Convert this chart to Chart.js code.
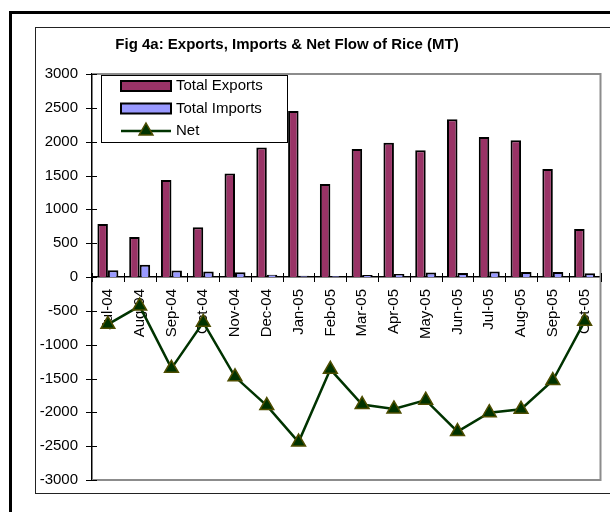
<!DOCTYPE html>
<html>
<head>
<meta charset="utf-8">
<script src="https://cdn.jsdelivr.net/npm/chart.js@4.4.1/dist/chart.umd.min.js"></script>
<style>
  html, body { margin: 0; padding: 0; background: #fff; }
</style>
</head>
<body>
<canvas id="chart" width="610" height="512"></canvas>
<script>
// values (MT)
const months = ['Jul-04', 'Aug-04', 'Sep-04', 'Oct-04', 'Nov-04', 'Dec-04', 'Jan-05', 'Feb-05',
                'Mar-05', 'Apr-05', 'May-05', 'Jun-05', 'Jul-05', 'Aug-05', 'Sep-05', 'Oct-05'];
const totalExports = [785, 590, 1435, 735, 1530, 1915, 2455, 1375, 1890, 1985, 1875, 2330, 2070, 2020, 1595, 710];
const totalImports = [100, 180, 95, 80, 70, 35, 18, 15, 30, 45, 65, 60, 80, 75, 75, 55];
const netFlow = [-700, -430, -1350, -670, -1475, -1900, -2440, -1365, -1885, -1950, -1820, -2285, -2005, -1955, -1530, -655];
const yMin = -3000;
const yMax = 3000;
const yStep = 500;

const titleText = 'Fig 4a: Exports, Imports & Net Flow of Rice (MT)';
const FONT = 'Liberation Sans, Arial, sans-serif';

// frame, title, plot border, crossing tick marks and the boxed legend
const decor = {
    id: 'decor',
    beforeDraw(chart) {
        const ctx = chart.ctx;
        ctx.save();
        ctx.fillStyle = '#fff';
        ctx.fillRect(0, 0, chart.width, chart.height);
        ctx.strokeStyle = '#000';
        ctx.lineWidth = 3;
        ctx.strokeRect(10.5, 12.5, 700, 700);
        ctx.lineWidth = 1;
        ctx.strokeStyle = '#222';
        ctx.strokeRect(35.5, 27.5, 700, 466);

        ctx.fillStyle = '#000';
        ctx.font = 'bold 15px ' + FONT;
        ctx.textAlign = 'center';
        ctx.textBaseline = 'alphabetic';
        ctx.fillText(titleText, 287, 49);
        ctx.restore();
    },
    beforeDatasetsDraw(chart) {
        const {ctx, chartArea: a} = chart;
        ctx.save();
        ctx.strokeStyle = '#8c8c8c';
        ctx.lineWidth = 2;
        ctx.beginPath();
        ctx.moveTo(a.left, a.top);
        ctx.lineTo(a.right, a.top);
        ctx.lineTo(a.right, a.bottom);
        ctx.lineTo(a.left, a.bottom);
        ctx.stroke();
        ctx.restore();
    },
    afterDraw(chart) {
        const {ctx, chartArea: a} = chart;
        const x = chart.scales.x;
        const y = chart.scales.y;
        ctx.save();
        ctx.strokeStyle = '#000';
        ctx.lineWidth = 1;
        // y ticks crossing the axis
        y.ticks.forEach(t => {
            const py = Math.round(y.getPixelForValue(t.value)) + 0.5;
            ctx.beginPath();
            ctx.moveTo(a.left - 6, py);
            ctx.lineTo(a.left + 5, py);
            ctx.stroke();
        });
        // x ticks between categories, on the zero line
        const y0 = y.getPixelForValue(0);
        const half = (x.getPixelForValue(1) - x.getPixelForValue(0)) / 2;
        for (let i = 0; i <= months.length; i++) {
            const px = Math.round(x.getPixelForValue(i) - half) + 0.5;
            ctx.beginPath();
            ctx.moveTo(px, y0 - 4);
            ctx.lineTo(px, y0 + 5);
            ctx.stroke();
        }

        // legend box
        const lx = a.left + 9, ly = a.top + 1;
        ctx.fillStyle = '#fff';
        ctx.fillRect(lx, ly, 186, 67);
        ctx.strokeStyle = '#000';
        ctx.strokeRect(lx + 0.5, ly + 0.5, 186, 67);
        ctx.font = '15px ' + FONT;
        ctx.textBaseline = 'middle';
        ctx.textAlign = 'left';
        chart.data.datasets.forEach((ds, i) => {
            const cy = ly + 11 + i * 22.5;
            const sx = lx + 20;
            if (ds.type === 'line') {
                ctx.strokeStyle = ds.borderColor;
                ctx.lineWidth = ds.borderWidth;
                ctx.beginPath();
                ctx.moveTo(sx, cy);
                ctx.lineTo(sx + 50, cy);
                ctx.stroke();
                ctx.fillStyle = ds.pointBackgroundColor;
                ctx.strokeStyle = ds.pointBorderColor;
                ctx.lineWidth = ds.pointBorderWidth;
                ctx.beginPath();
                const r = ds.pointRadius;
                ctx.moveTo(sx + 25, cy - r);
                ctx.lineTo(sx + 25 + r * 0.866, cy + r / 2);
                ctx.lineTo(sx + 25 - r * 0.866, cy + r / 2);
                ctx.closePath();
                ctx.fill();
                ctx.stroke();
            } else {
                ctx.fillStyle = ds.backgroundColor;
                ctx.fillRect(sx, cy - 5, 50, 10);
                ctx.strokeStyle = '#000';
                ctx.lineWidth = 2;
                ctx.strokeRect(sx, cy - 5, 50, 10);
            }
            ctx.fillStyle = '#000';
            ctx.fillText(ds.label, sx + 55, cy);
        });
        ctx.restore();
    }
};

new Chart(document.getElementById('chart'), {
    type: 'bar',
    data: {
        labels: months,
        datasets: [
            {
                label: 'Total Exports',
                data: totalExports,
                backgroundColor: '#993366',
                borderColor: '#000',
                borderWidth: 2,
                categoryPercentage: 0.66,
                barPercentage: 1.0,
                order: 1
            },
            {
                label: 'Total Imports',
                data: totalImports,
                backgroundColor: '#9999ff',
                borderColor: '#000',
                borderWidth: 2,
                categoryPercentage: 0.66,
                barPercentage: 1.0,
                order: 1
            },
            {
                type: 'line',
                label: 'Net',
                data: netFlow,
                borderColor: '#003300',
                borderWidth: 2.5,
                pointStyle: 'triangle',
                pointRadius: 8,
                pointBorderWidth: 1.5,
                pointBackgroundColor: '#003300',
                pointBorderColor: '#4d4d00',
                tension: 0,
                order: 0
            }
        ]
    },
    options: {
        responsive: false,
        animation: false,
        layout: {
            padding: { left: 0, top: 74, right: 4, bottom: 32 }
        },
        plugins: {
            legend: { display: false },
            title: { display: false },
            tooltip: { enabled: false }
        },
        scales: {
            x: {
                position: { y: 0 },
                grid: { display: false, drawTicks: false },
                border: { color: '#000', width: 1.5 },
                ticks: {
                    minRotation: 90,
                    maxRotation: 90,
                    autoSkip: false,
                    padding: 12,
                    color: '#000',
                    font: { family: FONT, size: 15 }
                },
                afterFit(s) {
                    s.paddingLeft = 0;
                    s.paddingRight = 0;
                }
            },
            y: {
                min: yMin,
                max: yMax,
                grid: { display: false, drawTicks: false },
                border: { color: '#000', width: 1.5 },
                ticks: {
                    stepSize: yStep,
                    padding: 14,
                    color: '#000',
                    font: { family: FONT, size: 15 },
                    callback: v => String(v)
                },
                afterFit(s) {
                    s.width = 92;
                }
            }
        }
    },
    plugins: [decor]
});
</script>
</body>
</html>
